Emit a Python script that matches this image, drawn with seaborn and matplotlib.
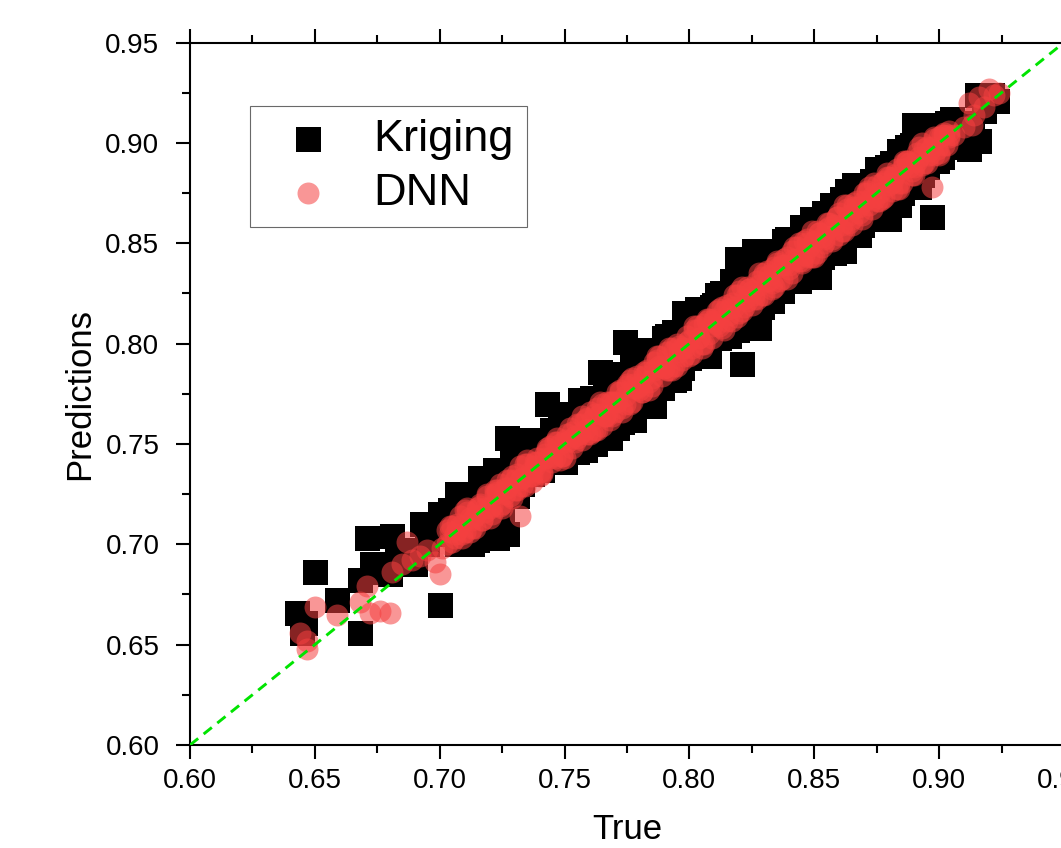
import pandas as pd
import matplotlib
matplotlib.use('Agg')
import matplotlib.pyplot as plt
import seaborn as sns
from matplotlib.ticker import MultipleLocator, FormatStrFormatter

# Kriging predictions
kriging_true = [
    0.643, 0.645, 0.646, 0.650, 0.659, 0.668, 0.668, 0.671, 0.673, 0.677,
    0.680, 0.681, 0.683, 0.687, 0.690, 0.693, 0.695, 0.700, 0.700, 0.702,
    0.704, 0.707, 0.709, 0.711, 0.713, 0.715, 0.716, 0.718, 0.720, 0.722,
    0.723, 0.725, 0.727, 0.727, 0.729, 0.731, 0.733, 0.735, 0.737, 0.739,
    0.741, 0.743, 0.744, 0.746, 0.748, 0.750, 0.752, 0.754, 0.756, 0.758,
    0.760, 0.762, 0.764, 0.766, 0.768, 0.770, 0.772, 0.774, 0.776, 0.778,
    0.780, 0.782, 0.784, 0.786, 0.787, 0.789, 0.790, 0.792, 0.794, 0.796,
    0.798, 0.800, 0.802, 0.804, 0.806, 0.808, 0.810, 0.812, 0.813, 0.815,
    0.817, 0.819, 0.821, 0.822, 0.824, 0.826, 0.828, 0.830, 0.832, 0.834,
    0.836, 0.837, 0.839, 0.841, 0.843, 0.845, 0.847, 0.849, 0.851, 0.852,
    0.854, 0.856, 0.857, 0.859, 0.861, 0.862, 0.864, 0.866, 0.868, 0.870,
    0.872, 0.874, 0.876, 0.878, 0.880, 0.880, 0.882, 0.884, 0.884, 0.886,
    0.888, 0.890, 0.891, 0.893, 0.895, 0.897, 0.898, 0.900, 0.902, 0.904,
    0.906, 0.908, 0.912, 0.913, 0.915, 0.916, 0.918, 0.921, 0.923,
]
kriging_pred = [
    0.666, 0.656, 0.661, 0.686, 0.672, 0.656, 0.682, 0.703, 0.690, 0.686,
    0.685, 0.704, 0.692, 0.697, 0.690, 0.710, 0.700, 0.670, 0.715, 0.705,
    0.717, 0.725, 0.704, 0.712, 0.700, 0.702, 0.733, 0.712, 0.726, 0.737,
    0.703, 0.718, 0.753, 0.705, 0.731, 0.724, 0.733, 0.752, 0.735, 0.745,
    0.737, 0.770, 0.752, 0.743, 0.758, 0.741, 0.760, 0.746, 0.772, 0.753,
    0.770, 0.750, 0.786, 0.760, 0.753, 0.785, 0.767, 0.801, 0.772, 0.762,
    0.793, 0.775, 0.797, 0.769, 0.794, 0.780, 0.803, 0.785, 0.806, 0.783,
    0.815, 0.793, 0.812, 0.797, 0.817, 0.794, 0.819, 0.803, 0.825, 0.806,
    0.826, 0.842, 0.790, 0.813, 0.836, 0.846, 0.808, 0.839, 0.824, 0.845,
    0.846, 0.826, 0.852, 0.833, 0.850, 0.858, 0.838, 0.862, 0.843, 0.833,
    0.865, 0.848, 0.869, 0.850, 0.872, 0.846, 0.855, 0.879, 0.860, 0.878,
    0.862, 0.880, 0.866, 0.885, 0.862, 0.887, 0.874, 0.896, 0.869, 0.879,
    0.896, 0.909, 0.882, 0.900, 0.888, 0.863, 0.909, 0.894, 0.904, 0.898,
    0.907, 0.903, 0.897, 0.910, 0.924, 0.901, 0.916, 0.924, 0.921,
]
# more Kriging points inside the dense band
kriging_band_true = [
    0.705, 0.709, 0.713, 0.717, 0.721, 0.725, 0.729, 0.733, 0.737, 0.741,
    0.745, 0.749, 0.753, 0.757, 0.761, 0.765, 0.769, 0.773, 0.777, 0.781,
    0.785, 0.789, 0.793, 0.797, 0.801, 0.805, 0.809, 0.813, 0.817, 0.821,
    0.825, 0.829, 0.833, 0.837, 0.841, 0.845, 0.849, 0.853, 0.857, 0.861,
    0.865, 0.869, 0.873, 0.877, 0.881, 0.885, 0.889, 0.893, 0.897, 0.901,
    0.905, 0.909,
    0.707, 0.711, 0.715, 0.719, 0.723, 0.727, 0.731, 0.735, 0.739, 0.743,
    0.747, 0.751, 0.755, 0.759, 0.763, 0.767, 0.771, 0.775, 0.779, 0.783,
    0.787, 0.791, 0.795, 0.799, 0.803, 0.807, 0.811, 0.815, 0.819, 0.823,
    0.827, 0.831, 0.835, 0.839, 0.843, 0.847, 0.851, 0.855, 0.859, 0.863,
    0.867, 0.871, 0.875, 0.879, 0.883, 0.887, 0.891, 0.895, 0.899, 0.903,
    0.907,
    0.752, 0.758, 0.766, 0.771, 0.779, 0.783, 0.791, 0.794, 0.803, 0.807,
    0.811, 0.816, 0.827, 0.833, 0.838, 0.844, 0.850, 0.858, 0.863, 0.868,
    0.875, 0.879, 0.887, 0.892,
]
kriging_band_pred = [
    0.714, 0.701, 0.724, 0.708, 0.731, 0.713, 0.741, 0.730, 0.747, 0.737,
    0.757, 0.741, 0.764, 0.748, 0.773, 0.755, 0.780, 0.761, 0.790, 0.771,
    0.794, 0.778, 0.803, 0.788, 0.812, 0.795, 0.818, 0.804, 0.831, 0.811,
    0.837, 0.818, 0.842, 0.829, 0.851, 0.836, 0.858, 0.843, 0.867, 0.852,
    0.874, 0.859, 0.881, 0.866, 0.890, 0.875, 0.899, 0.884, 0.906, 0.893,
    0.912, 0.900,
    0.700, 0.719, 0.709, 0.728, 0.715, 0.734, 0.733, 0.745, 0.737, 0.752,
    0.742, 0.759, 0.746, 0.769, 0.755, 0.776, 0.761, 0.783, 0.770, 0.794,
    0.779, 0.798, 0.786, 0.807, 0.796, 0.816, 0.803, 0.825, 0.807, 0.831,
    0.818, 0.838, 0.827, 0.848, 0.836, 0.855, 0.842, 0.865, 0.851, 0.870,
    0.858, 0.879, 0.865, 0.888, 0.876, 0.895, 0.879, 0.901, 0.891, 0.910,
    0.898,
    0.765, 0.747, 0.781, 0.758, 0.793, 0.769, 0.804, 0.782, 0.817, 0.794,
    0.824, 0.804, 0.840, 0.821, 0.851, 0.831, 0.862, 0.845, 0.876, 0.854,
    0.887, 0.866, 0.898, 0.878,
]

# DNN predictions
dnn_true = [
    0.644, 0.647, 0.647, 0.650, 0.659, 0.668, 0.671, 0.672, 0.676, 0.680,
    0.681, 0.685, 0.687, 0.689, 0.692, 0.695, 0.698, 0.700, 0.701,
    0.703, 0.705, 0.707, 0.709, 0.711, 0.713, 0.715, 0.717, 0.719, 0.721,
    0.723, 0.725, 0.727, 0.729, 0.731, 0.732, 0.733, 0.735, 0.737, 0.739,
    0.741, 0.743, 0.745, 0.747, 0.749, 0.751, 0.753, 0.755, 0.757, 0.759,
    0.761, 0.763, 0.765, 0.767, 0.769, 0.771, 0.773, 0.775, 0.777, 0.779,
    0.781, 0.783, 0.785, 0.787, 0.789, 0.791, 0.793, 0.795, 0.797, 0.799,
    0.801, 0.803, 0.805, 0.807, 0.809, 0.811, 0.813, 0.815, 0.817, 0.819,
    0.821, 0.823, 0.825, 0.827, 0.829, 0.831, 0.833, 0.835, 0.837, 0.839,
    0.841, 0.843, 0.845, 0.847, 0.849, 0.851, 0.853, 0.855, 0.857, 0.859,
    0.861, 0.863, 0.865, 0.867, 0.869, 0.871, 0.873, 0.875, 0.877, 0.879,
    0.881, 0.883, 0.885, 0.887, 0.889, 0.891, 0.893, 0.895, 0.897, 0.898,
    0.900, 0.902, 0.904, 0.906, 0.910, 0.913, 0.914, 0.912, 0.916, 0.918,
    0.920, 0.922, 0.924,
]
dnn_pred = [
    0.656, 0.652, 0.648, 0.669, 0.665, 0.671, 0.679, 0.666, 0.667, 0.666,
    0.686, 0.690, 0.701, 0.692, 0.694, 0.697, 0.691, 0.685, 0.698,
    0.707, 0.701, 0.710, 0.705, 0.716, 0.708, 0.718, 0.712, 0.724, 0.715,
    0.727, 0.720, 0.732, 0.723, 0.735, 0.714, 0.729, 0.740, 0.731, 0.743,
    0.736, 0.748, 0.741, 0.751, 0.744, 0.755, 0.748, 0.760, 0.752, 0.763,
    0.756, 0.768, 0.759, 0.771, 0.764, 0.776, 0.768, 0.780, 0.771, 0.784,
    0.776, 0.787, 0.779, 0.792, 0.784, 0.796, 0.787, 0.800, 0.792, 0.804,
    0.795, 0.807, 0.800, 0.812, 0.803, 0.816, 0.808, 0.819, 0.811, 0.824,
    0.816, 0.828, 0.819, 0.831, 0.824, 0.836, 0.827, 0.840, 0.832, 0.843,
    0.835, 0.848, 0.840, 0.852, 0.843, 0.856, 0.848, 0.860, 0.851, 0.863,
    0.856, 0.867, 0.859, 0.871, 0.864, 0.875, 0.867, 0.879, 0.872, 0.883,
    0.876, 0.887, 0.880, 0.891, 0.884, 0.895, 0.889, 0.898, 0.878, 0.894,
    0.903, 0.899, 0.906, 0.904, 0.908, 0.909, 0.914, 0.920, 0.923, 0.918,
    0.927, 0.924, 0.925,
]
# more DNN points inside the dense band
dnn_band_true = [
    0.704, 0.706, 0.708, 0.710, 0.712, 0.714, 0.716, 0.718, 0.720, 0.722,
    0.724, 0.726, 0.728, 0.730, 0.732, 0.734, 0.736, 0.738, 0.740, 0.742,
    0.744, 0.746, 0.748, 0.750, 0.752, 0.754, 0.756, 0.758, 0.760, 0.762,
    0.764, 0.766, 0.768, 0.770, 0.772, 0.774, 0.776, 0.778, 0.780, 0.782,
    0.784, 0.786, 0.788, 0.790, 0.792, 0.794, 0.796, 0.798, 0.800, 0.802,
    0.804, 0.806, 0.808, 0.810, 0.812, 0.814, 0.816, 0.818, 0.820, 0.822,
    0.824, 0.826, 0.828, 0.830, 0.832, 0.834, 0.836, 0.838, 0.840, 0.842,
    0.844, 0.846, 0.848, 0.850, 0.852, 0.854, 0.856, 0.858, 0.860, 0.862,
    0.864, 0.866, 0.868, 0.870, 0.872, 0.874, 0.876, 0.878, 0.880, 0.882,
    0.884, 0.886, 0.888, 0.890, 0.892, 0.894, 0.896, 0.898, 0.900, 0.902,
    0.904,
    0.703, 0.705, 0.707, 0.709, 0.711, 0.713, 0.715, 0.717, 0.719, 0.721,
    0.723, 0.725, 0.727, 0.729, 0.731, 0.733, 0.735, 0.737, 0.739, 0.741,
    0.743, 0.745, 0.747, 0.749, 0.751, 0.753, 0.755, 0.757, 0.759, 0.761,
    0.763, 0.765, 0.767, 0.769, 0.771, 0.773, 0.775, 0.777, 0.779, 0.781,
    0.783, 0.785, 0.787, 0.789, 0.791, 0.793, 0.795, 0.797, 0.799, 0.801,
    0.803, 0.805, 0.807, 0.809, 0.811, 0.813, 0.815, 0.817, 0.819, 0.821,
    0.823, 0.825, 0.827, 0.829, 0.831, 0.833, 0.835, 0.837, 0.839, 0.841,
    0.843, 0.845, 0.847, 0.849, 0.851, 0.853, 0.855, 0.857, 0.859, 0.861,
    0.863, 0.865, 0.867, 0.869, 0.871, 0.873, 0.875, 0.877, 0.879, 0.881,
    0.883, 0.885, 0.887, 0.889, 0.891, 0.893, 0.895, 0.897, 0.899, 0.901,
    0.903,
    0.704, 0.706, 0.708, 0.710, 0.712, 0.714, 0.716, 0.718, 0.720, 0.722,
    0.724, 0.726, 0.728, 0.730, 0.732, 0.734, 0.736, 0.738, 0.740, 0.742,
    0.744, 0.746, 0.748, 0.750, 0.752, 0.754, 0.756, 0.758, 0.760, 0.762,
    0.764, 0.766, 0.768, 0.770, 0.772, 0.774, 0.776, 0.778, 0.780, 0.782,
    0.784, 0.786, 0.788, 0.790, 0.792, 0.794, 0.796, 0.798, 0.800, 0.802,
    0.804, 0.806, 0.808, 0.810, 0.812, 0.814, 0.816, 0.818, 0.820, 0.822,
    0.824, 0.826, 0.828, 0.830, 0.832, 0.834, 0.836, 0.838, 0.840, 0.842,
    0.844, 0.846, 0.848, 0.850, 0.852, 0.854, 0.856, 0.858, 0.860, 0.862,
    0.864, 0.866, 0.868, 0.870, 0.872, 0.874, 0.876, 0.878, 0.880, 0.882,
    0.884, 0.886, 0.888, 0.890, 0.892, 0.894, 0.896, 0.898, 0.900, 0.902,
    0.904,
]
dnn_band_pred = [
    0.706, 0.705, 0.714, 0.706, 0.713, 0.708, 0.719, 0.718, 0.718, 0.727,
    0.719, 0.728, 0.732, 0.727, 0.732, 0.740, 0.734, 0.739, 0.736, 0.745,
    0.743, 0.751, 0.742, 0.752, 0.752, 0.751, 0.760, 0.757, 0.766, 0.757,
    0.765, 0.764, 0.771, 0.766, 0.777, 0.774, 0.770, 0.780, 0.779, 0.786,
    0.781, 0.787, 0.794, 0.788, 0.787, 0.797, 0.796, 0.794, 0.802, 0.807,
    0.803, 0.800, 0.812, 0.811, 0.809, 0.816, 0.814, 0.824, 0.815, 0.822,
    0.827, 0.822, 0.829, 0.835, 0.831, 0.828, 0.838, 0.842, 0.837, 0.842,
    0.850, 0.844, 0.843, 0.851, 0.855, 0.850, 0.858, 0.857, 0.865, 0.856,
    0.864, 0.870, 0.865, 0.871, 0.878, 0.872, 0.871, 0.881, 0.879, 0.884,
    0.880, 0.891, 0.888, 0.884, 0.893, 0.897, 0.894, 0.902, 0.895, 0.904,
    0.904,
    0.700, 0.709, 0.707, 0.703, 0.718, 0.712, 0.717, 0.712, 0.725, 0.719,
    0.726, 0.718, 0.728, 0.734, 0.727, 0.733, 0.742, 0.734, 0.741, 0.735,
    0.747, 0.744, 0.753, 0.744, 0.751, 0.756, 0.753, 0.764, 0.755, 0.762,
    0.757, 0.770, 0.764, 0.771, 0.771, 0.766, 0.779, 0.783, 0.778, 0.776,
    0.786, 0.783, 0.794, 0.789, 0.787, 0.798, 0.789, 0.798, 0.801, 0.798,
    0.809, 0.798, 0.811, 0.809, 0.810, 0.818, 0.811, 0.820, 0.813, 0.828,
    0.821, 0.826, 0.822, 0.833, 0.831, 0.830, 0.841, 0.839, 0.832, 0.846,
    0.842, 0.841, 0.850, 0.856, 0.845, 0.853, 0.857, 0.852, 0.863, 0.859,
    0.869, 0.862, 0.868, 0.862, 0.876, 0.873, 0.871, 0.880, 0.885, 0.880,
    0.877, 0.887, 0.891, 0.886, 0.891, 0.900, 0.890, 0.898, 0.897, 0.904,
    0.899,
    0.709, 0.703, 0.709, 0.717, 0.706, 0.714, 0.720, 0.716, 0.713, 0.725,
    0.730, 0.725, 0.724, 0.732, 0.739, 0.729, 0.736, 0.741, 0.734, 0.743,
    0.749, 0.743, 0.750, 0.743, 0.758, 0.754, 0.755, 0.762, 0.755, 0.765,
    0.771, 0.764, 0.762, 0.771, 0.776, 0.770, 0.782, 0.778, 0.777, 0.784,
    0.777, 0.791, 0.789, 0.788, 0.798, 0.789, 0.799, 0.798, 0.794, 0.809,
    0.803, 0.810, 0.805, 0.812, 0.817, 0.807, 0.817, 0.818, 0.826, 0.818,
    0.827, 0.824, 0.835, 0.824, 0.834, 0.838, 0.831, 0.839, 0.839, 0.848,
    0.841, 0.851, 0.848, 0.843, 0.855, 0.852, 0.860, 0.859, 0.854, 0.869,
    0.860, 0.868, 0.868, 0.875, 0.869, 0.880, 0.875, 0.873, 0.883, 0.883,
    0.877, 0.890, 0.890, 0.888, 0.898, 0.890, 0.896, 0.903, 0.894, 0.905,
    0.903,
]

kriging = pd.DataFrame({'True': kriging_true + kriging_band_true,
                        'Predictions': kriging_pred + kriging_band_pred})
dnn = pd.DataFrame({'True': dnn_true + dnn_band_true,
                    'Predictions': dnn_pred + dnn_band_pred})

sns.set_style('ticks')
plt.rcParams['font.family'] = ['Liberation Sans', 'DejaVu Sans']
plt.rcParams['text.color'] = 'black'
plt.rcParams['axes.labelcolor'] = 'black'
plt.rcParams['xtick.color'] = 'black'
plt.rcParams['ytick.color'] = 'black'

fig = plt.figure(figsize=(10.61, 8.48), dpi=100)
ax = fig.add_axes([0.17908, 0.12146, 0.82375, 0.82842])

sns.scatterplot(data=kriging, x='True', y='Predictions', ax=ax, marker='s',
                s=324, color='black', linewidth=0, label='Kriging', zorder=2)
sns.scatterplot(data=dnn, x='True', y='Predictions', ax=ax, marker='o',
                s=250, color='#f54040', alpha=0.55, linewidth=0,
                label='DNN', zorder=3)

# identity line
ax.axline((0, 0), slope=1, color='#00e400', lw=2.1,
          linestyle=(0, (3.6, 2.4)), zorder=4)

ax.set_xlim(0.60, 0.95)
ax.set_ylim(0.60, 0.95)
ax.xaxis.set_major_locator(MultipleLocator(0.05))
ax.yaxis.set_major_locator(MultipleLocator(0.05))
ax.xaxis.set_minor_locator(MultipleLocator(0.025))
ax.yaxis.set_minor_locator(MultipleLocator(0.025))
ax.xaxis.set_major_formatter(FormatStrFormatter('%.2f'))
ax.yaxis.set_major_formatter(FormatStrFormatter('%.2f'))

for side in ['left', 'bottom', 'top', 'right']:
    ax.spines[side].set_visible(True)
    ax.spines[side].set_linewidth(1.5)
    ax.spines[side].set_color('black')

ax.tick_params(axis='both', which='major', direction='out', length=10,
               width=1.5, labelsize=20, color='black', labelcolor='black')
ax.tick_params(axis='both', which='minor', direction='out', length=5.5,
               width=1.5, color='black')
ax.tick_params(axis='x', which='both', top=True, bottom=True, pad=6.5)
ax.tick_params(axis='y', which='both', left=True, right=True, pad=12)

ax.set_xlabel('True', fontsize=25, labelpad=14)
ax.set_ylabel('Predictions', fontsize=25, labelpad=6.5)

leg = ax.legend(loc='upper left', bbox_to_anchor=(250 / 1061, 742 / 848),
                bbox_transform=fig.transFigure, fontsize=32.5, frameon=True,
                fancybox=False, borderpad=0.29, handlelength=2.0,
                handletextpad=0.44, labelspacing=0.29, borderaxespad=0)
leg.get_frame().set_edgecolor('#444444')
leg.get_frame().set_linewidth(0.8)

plt.savefig('out.png', dpi=100)
plt.close()
